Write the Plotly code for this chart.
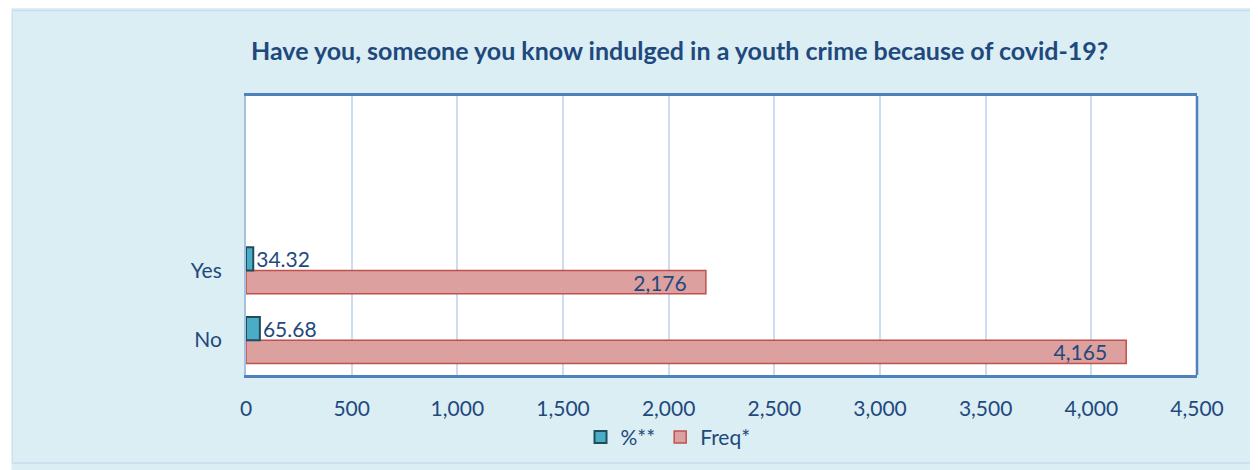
import plotly.graph_objects as go

# data
categories = ["No", "Yes"]
pct_values = [65.68, 34.32]
freq_values = [4165, 2176]
pct_labels = ["65.68", "34.32"]
freq_labels = ["4,165", "2,176"]

# page body adds an 8px margin, so work in reference pixels and shift
OFF = 8
W, H = 1258 - OFF, 470 - OFF
L, R, T, B = 246 - OFF, 61, 96 - OFF, 92
pw, ph = W - L - R, H - T - B

def px_x(x):
    return (x - OFF - L) / pw

def px_y(y):
    return (H - B - (y - OFF)) / ph

txt = "#1F497D"
font = "Lato, 'Open Sans', sans-serif"

fig = go.Figure()

fig.add_trace(go.Bar(
    y=categories, x=freq_values, orientation="h", name="Freq*",
    marker=dict(color="#DCA09F", line=dict(color="#C0504D", width=1.5)),
    text=freq_labels, texttemplate="%{text}&nbsp;&nbsp;&nbsp;",
    textposition="inside", insidetextanchor="end", constraintext="none",
    textfont=dict(color=txt, size=21, family=font),
    legendrank=2,
))
fig.add_trace(go.Bar(
    y=categories, x=pct_values, orientation="h", name="%**",
    marker=dict(color="#4BACC6", line=dict(color="#1E4E5C", width=2)),
    text=pct_labels, textposition="outside", cliponaxis=False, constraintext="none",
    textfont=dict(color=txt, size=21, family=font),
    legendrank=1,
))

shapes = [
    # chart box border
    dict(type="rect", xref="paper", yref="paper", x0=px_x(12), x1=px_x(1270), y0=px_y(9.5), y1=px_y(467),
         fillcolor="rgba(0,0,0,0)", line=dict(color="#C9DCEC", width=1.5), layer="above"),
    dict(type="rect", xref="paper", yref="paper", x0=px_x(0), x1=px_x(11.5), y0=px_y(0), y1=px_y(480),
         fillcolor="white", line_width=0, layer="above"),
    # right edge of plot area
    dict(type="line", xref="paper", yref="paper", x0=1, x1=1, y0=0, y1=1,
         line=dict(color="#4F81BD", width=2.5), layer="above"),
]

fig.update_layout(
    width=W, height=H,
    margin=dict(l=L, r=R, t=T, b=B),
    paper_bgcolor="#DBEEF4",
    plot_bgcolor="white",
    barmode="group",
    bargap=1/3,
    bargroupgap=0,
    font=dict(family=font, color=txt, size=21),
    showlegend=True,
    legend=dict(orientation="h", x=px_x(668), xanchor="center", y=px_y(441), yanchor="middle",
                bgcolor="rgba(0,0,0,0)", font=dict(size=21, color=txt), itemwidth=30,
                traceorder="normal"),
    annotations=[dict(
        text="<b>Have you, someone you know indulged in a youth crime because of covid-19?</b>",
        xref="paper", yref="paper", x=px_x(679), y=px_y(50), xanchor="center", yanchor="middle",
        showarrow=False, font=dict(size=25, color=txt, family=font),
    )],
    shapes=shapes,
    xaxis=dict(
        range=[0, 4500], dtick=500, tickformat=",",
        showgrid=True, gridcolor="#CCDDF0", gridwidth=1.5,
        showline=True, linecolor="#4F81BD", linewidth=2.5, mirror=True,
        ticks="outside", ticklen=13, tickcolor="rgba(0,0,0,0)",
        tickfont=dict(size=21, color=txt), zeroline=False,
    ),
    yaxis=dict(
        type="category", categoryorder="array", categoryarray=categories,
        range=[-0.5, 3.5],
        showgrid=False, showline=True, linecolor="#A7C0E0", linewidth=2,
        ticks="outside", ticklen=18, tickcolor="rgba(0,0,0,0)",
        tickfont=dict(size=21, color=txt),
    ),
)

fig.write_html("out.html")
